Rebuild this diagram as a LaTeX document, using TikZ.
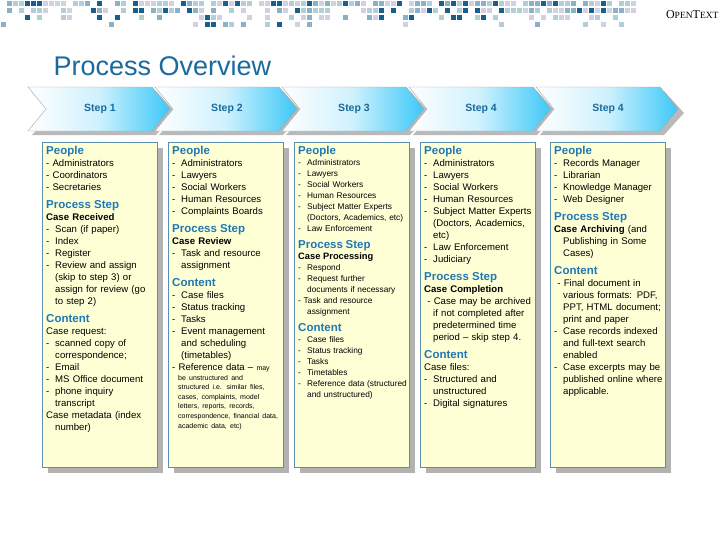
\documentclass[tikz,border=0pt]{standalone}
\usepackage{fontspec}
\setmainfont{Liberation Sans}
\newfontfamily\otfont{Liberation Serif}
\hyphenpenalty=10000
\exhyphenpenalty=10000
\definecolor{hd}{HTML}{1F78B4}
\definecolor{tt}{HTML}{1B6A9C}
\definecolor{boxf}{HTML}{FFFFD6}
\definecolor{boxd}{HTML}{5A8FB0}
\definecolor{cy}{HTML}{3CC8F8}
\newcommand\hdr[1]{\par\vspace{6pt}{\color{hd}\bfseries\fontsize{11.5}{13}\selectfont #1}\par}
\newcommand\hfirst[1]{{\color{hd}\bfseries\fontsize{11.5}{13}\selectfont #1}\par}
\newcommand\di[1]{\par\hangindent=9pt\hangafter=1\makebox[9pt][l]{-}#1\par}
\newcommand\pl[1]{\par\hangindent=9pt\hangafter=1 #1\par}
\newcommand\sm[1]{{\fontsize{7}{8}\selectfont #1}}
\begin{document}
\begin{tikzpicture}[x=1pt,y=-1pt,
  colbox/.style={draw=boxd,fill=boxf,line width=0.8pt,minimum width=115pt,minimum height=325pt,anchor=north west,inner sep=0pt},
  shad/.style={fill=gray!60,minimum width=115pt,minimum height=325pt,anchor=north west,inner sep=0pt},
  coltext/.style={anchor=north west,text width=109pt,align=left,inner sep=0pt,font=\fontsize{9.6}{12}\selectfont},
  steplbl/.style={font=\bfseries\fontsize{10.5}{12}\selectfont,text=tt}]
\useasboundingbox (0,0) rectangle (728,546);
\fill[white] (0,0) rectangle (728,546);
% mosaic
\pgfmathsetseed{7}
\foreach \r/\p in {0/0.8,1/0.65,2/0.4,3/0.2}{
  \foreach \c in {0,...,105}{
    \pgfmathsetmacro\q{rnd}
    \pgfmathsetmacro\s{int(rnd*4)}
    \ifdim \q pt<\p pt
      \ifcase\s \def\cc{blue!20!gray!30}\or\def\cc{boxd!70}\or\def\cc{tt!90!black}\or\def\cc{cy!40!gray!50}\fi
      \fill[\cc] (\c*6+1,\r*7+1) rectangle ++(4.5,5);
    \fi
  }}
\node[anchor=east,font=\otfont\fontsize{12}{12}\selectfont] (ot) at (722,15) {O\fontsize{9.5}{10}\selectfont PEN\fontsize{12}{12}\selectfont T\fontsize{9.5}{10}\selectfont EXT};
\node[anchor=west,text=tt,font=\fontsize{27}{30}\selectfont] (title) at (50,66) {Process Overview};
% chevrons
\foreach \i/\lbl in {0/Step 1,1/Step 2,2/Step 3,3/Step 4,4/Step 4}{
  \pgfmathsetmacro\xa{28+127*\i}
  \fill[gray!55] (\xa+4,91) -- ++(124,0) -- ++(20,22) -- ++(-20,22) -- ++(-124,0) -- ++(20,-22) -- cycle;
  \path[draw=gray!70,left color=white,right color=cy,middle color=cy!25] (\xa,87) -- ++(124,0) -- ++(18,22) -- ++(-18,22) -- ++(-124,0) -- ++(18,-22) -- cycle;
  \node[steplbl] (s\i) at (\xa+72,109) {\lbl};
}
% boxes
\foreach \i/\x in {1/42,2/168,3/294,4/420,5/550}{
  \node[shad] (sh\i) at (\x+6,148) {};
  \node[colbox] (b\i) at (\x,142) {};
}
\node[coltext] (t1) at (46,146) {\hfirst{People}
\pl{- Administrators}\pl{- Coordinators}\pl{- Secretaries}
\hdr{Process Step}{\bfseries Case Received}\par
\di{Scan (if paper)}\di{Index}\di{Register}\di{Review and assign (skip to step 3) or assign for review (go to step 2)}
\hdr{Content}\pl{Case request:}\di{scanned copy of correspondence;}\di{Email}\di{MS Office document}\di{phone inquiry transcript}\pl{Case metadata (index number)}};
\node[coltext] (t2) at (172,146) {\hfirst{People}
\di{Administrators}\di{Lawyers}\di{Social Workers}\di{Human Resources}\di{Complaints Boards}
\hdr{Process Step}{\bfseries Case Review}\par
\di{Task and resource assignment}
\hdr{Content}\di{Case files}\di{Status tracking}\di{Tasks}\di{Event management and scheduling (timetables)}
\pl{- Reference data -- \sm{may}}{\fontsize{7}{9.6}\selectfont\leftskip=6pt be unstructured and structured i.e. similar files, cases, complaints, model letters, reports, records, correspondence, financial data, academic data, etc)\par}};
\node[coltext,font=\fontsize{8.3}{11}\selectfont] (t3) at (298,146) {\hfirst{People}
\di{Administrators}\di{Lawyers}\di{Social Workers}\di{Human Resources}\di{Subject Matter Experts (Doctors, Academics, etc)}\di{Law Enforcement}
\hdr{Process Step}{\bfseries\fontsize{9.3}{12}\selectfont Case Processing}\par
\di{Respond}\di{Request further documents if necessary}\pl{- Task and resource assignment}
\hdr{Content}\di{Case files}\di{Status tracking}\di{Tasks}\di{Timetables}\di{Reference data (structured and unstructured)}};
\node[coltext] (t4) at (424,146) {\hfirst{People}
\di{Administrators}\di{Lawyers}\di{Social Workers}\di{Human Resources}\di{Subject Matter Experts (Doctors, Academics, etc)}\di{Law Enforcement}\di{Judiciary}
\hdr{Process Step}{\bfseries Case Completion}\par
\pl{\ - Case may be archived if not completed after predetermined time period -- skip step 4.}
\hdr{Content}\pl{Case files:}\di{Structured and unstructured}\di{Digital signatures}};
\node[coltext] (t5) at (554,146) {\hfirst{People}
\di{Records Manager}\di{Librarian}\di{Knowledge Manager}\di{Web Designer}
\hdr{Process Step}\pl{{\bfseries Case Archiving} (and Publishing in Some Cases)}
\hdr{Content}\pl{\ - Final document in various formats: PDF, PPT, HTML document; print and paper}\di{Case records indexed and full-text search enabled}\di{Case excerpts may be published online where applicable.}};
\end{tikzpicture}
\end{document}
